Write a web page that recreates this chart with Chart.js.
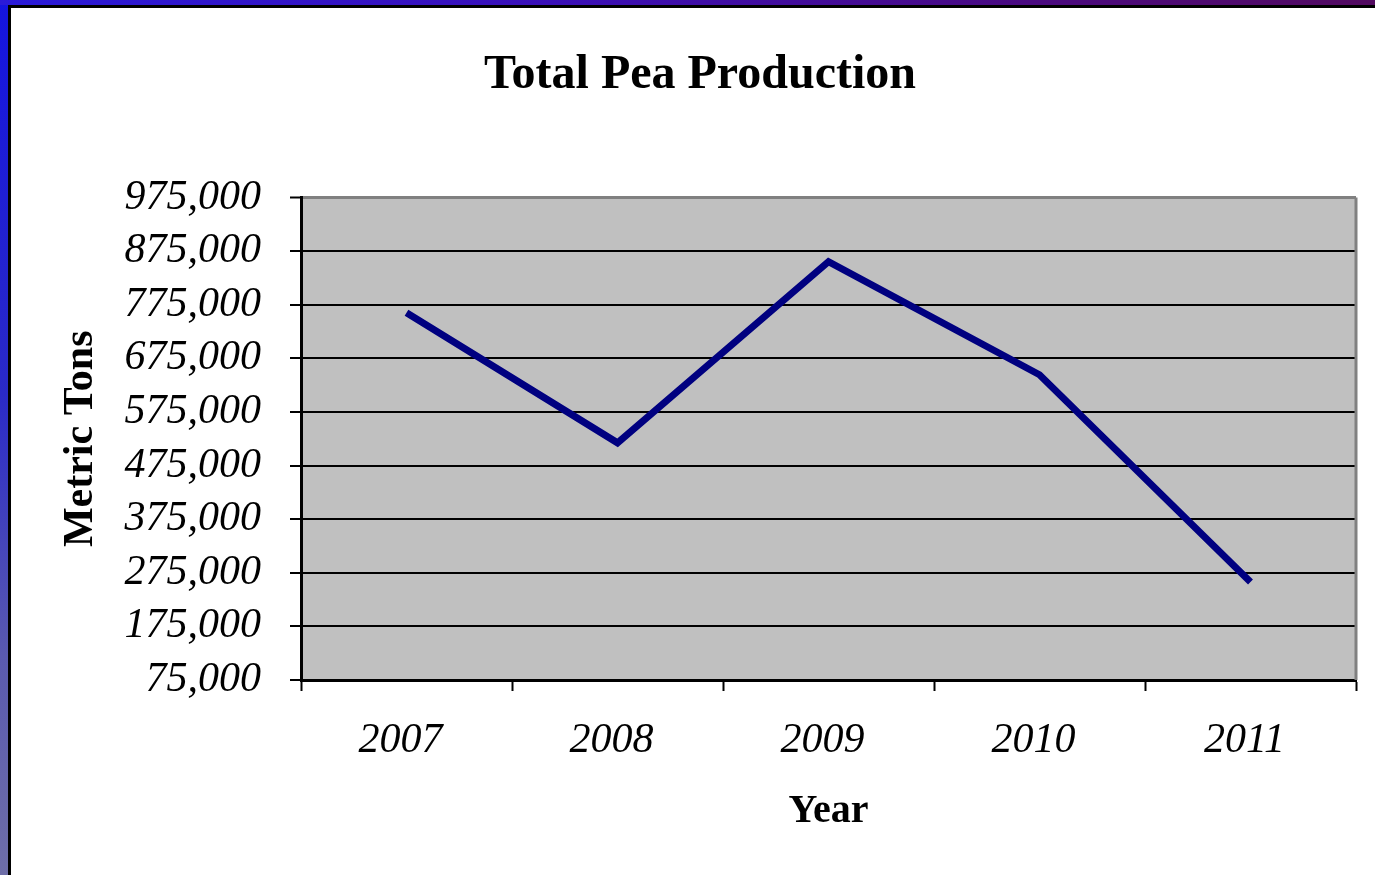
<!DOCTYPE html>
<html>
<head>
<meta charset="utf-8">
<script src="https://cdn.jsdelivr.net/npm/chart.js@4"></script>
<style>
  html, body { margin: 0; padding: 0; }
  body {
    width: 1375px; height: 875px; overflow: hidden; position: relative;
    background:
      linear-gradient(to right, #2a1ad8 0%, #3a10b8 40%, #4a0a80 75%, #520a60 100%) top left / 100% 5px no-repeat,
      linear-gradient(to bottom, #1414e0 0%, #2a2ac8 45%, #5a5ab0 75%, #6e6ea8 100%) top left / 8px 100% no-repeat,
      #fff;
  }
  #frame {
    position: absolute; left: 8px; top: 5px; right: 0; bottom: 0;
    border-left: 3px solid #000; border-top: 3px solid #000;
    background: #fff;
  }
  #wrap { position: absolute; left: 0; top: 0; width: 1364px; height: 867px; }
</style>
</head>
<body>
<div id="frame"><div id="wrap"><canvas id="peaChart"></canvas></div></div>
<script>
// chart data
const years = ['2007', '2008', '2009', '2010', '2011'];
const tons = [760000, 517500, 855500, 644500, 258000];
const yMin = 75000;
const yMax = 975000;
const yStep = 100000;

const serif = '"Liberation Serif", "Times New Roman", serif';

// grey plot background + grey edge on the right
const plotArea = {
  id: 'plotArea',
  beforeDraw(chart) {
    const { ctx, chartArea: a } = chart;
    ctx.save();
    ctx.fillStyle = '#c0c0c0';
    ctx.fillRect(a.left, a.top, a.right - a.left, a.bottom - a.top);
    ctx.restore();
  },
  afterDatasetsDraw(chart) {
    const { ctx, chartArea: a } = chart;
    ctx.save();
    ctx.strokeStyle = '#808080';
    ctx.lineWidth = 3;
    ctx.beginPath();
    ctx.moveTo(a.right, a.top);
    ctx.lineTo(a.right, a.bottom);
    ctx.stroke();
    ctx.restore();
  }
};

new Chart(document.getElementById('peaChart').getContext('2d'), {
  type: 'line',
  data: {
    labels: years,
    datasets: [{
      label: 'Metric Tons',
      data: tons,
      borderColor: '#000080',
      backgroundColor: '#000080',
      borderWidth: 7,
      borderCapStyle: 'butt',
      pointRadius: 0,
      tension: 0,
      fill: false
    }]
  },
  options: {
    responsive: true,
    maintainAspectRatio: false,
    animation: false,
    layout: { padding: { left: 33, right: 19, top: 0, bottom: 0 } },
    plugins: {
      legend: { display: false },
      tooltip: { enabled: false },
      title: {
        display: true,
        text: 'Total Pea Production',
        color: '#000',
        font: { family: serif, size: 48, weight: 'bold' },
        padding: { top: 39, bottom: 93 }
      }
    },
    scales: {
      x: {
        offset: true,
        afterFit: s => { s.height = 195; },
        grid: {
          offset: true,
          drawOnChartArea: false,
          drawTicks: true,
          tickLength: 11,
          tickColor: '#000',
          tickWidth: 2
        },
        border: { color: '#000', width: 3 },
        ticks: {
          color: '#000',
          padding: 25,
          labelOffset: -6,
          font: { family: serif, size: 42, style: 'italic' }
        },
        title: {
          display: true,
          text: 'Year',
          color: '#000',
          font: { family: serif, size: 40, weight: 'bold' },
          padding: { top: 0, bottom: 39 }
        }
      },
      y: {
        min: yMin,
        max: yMax,
        afterFit: s => { s.width = 257; },
        grid: {
          color: c => (c.tick && c.tick.value === yMax ? '#808080' : '#000'),
          lineWidth: c => (c.tick && c.tick.value === yMax ? 3 : 2),
          drawTicks: true,
          tickLength: 11,
          tickColor: '#000',
          tickWidth: 2
        },
        border: { color: '#000', width: 3 },
        ticks: {
          stepSize: yStep,
          color: '#000',
          padding: 29,
          font: { family: serif, size: 42, style: 'italic' },
          callback: v => v.toLocaleString('en-US')
        },
        title: {
          display: true,
          text: 'Metric Tons',
          color: '#000',
          font: { family: serif, size: 42, weight: 'bold' },
          padding: { top: 12, bottom: 0 }
        }
      }
    }
  },
  plugins: [plotArea]
});
</script>
</body>
</html>
